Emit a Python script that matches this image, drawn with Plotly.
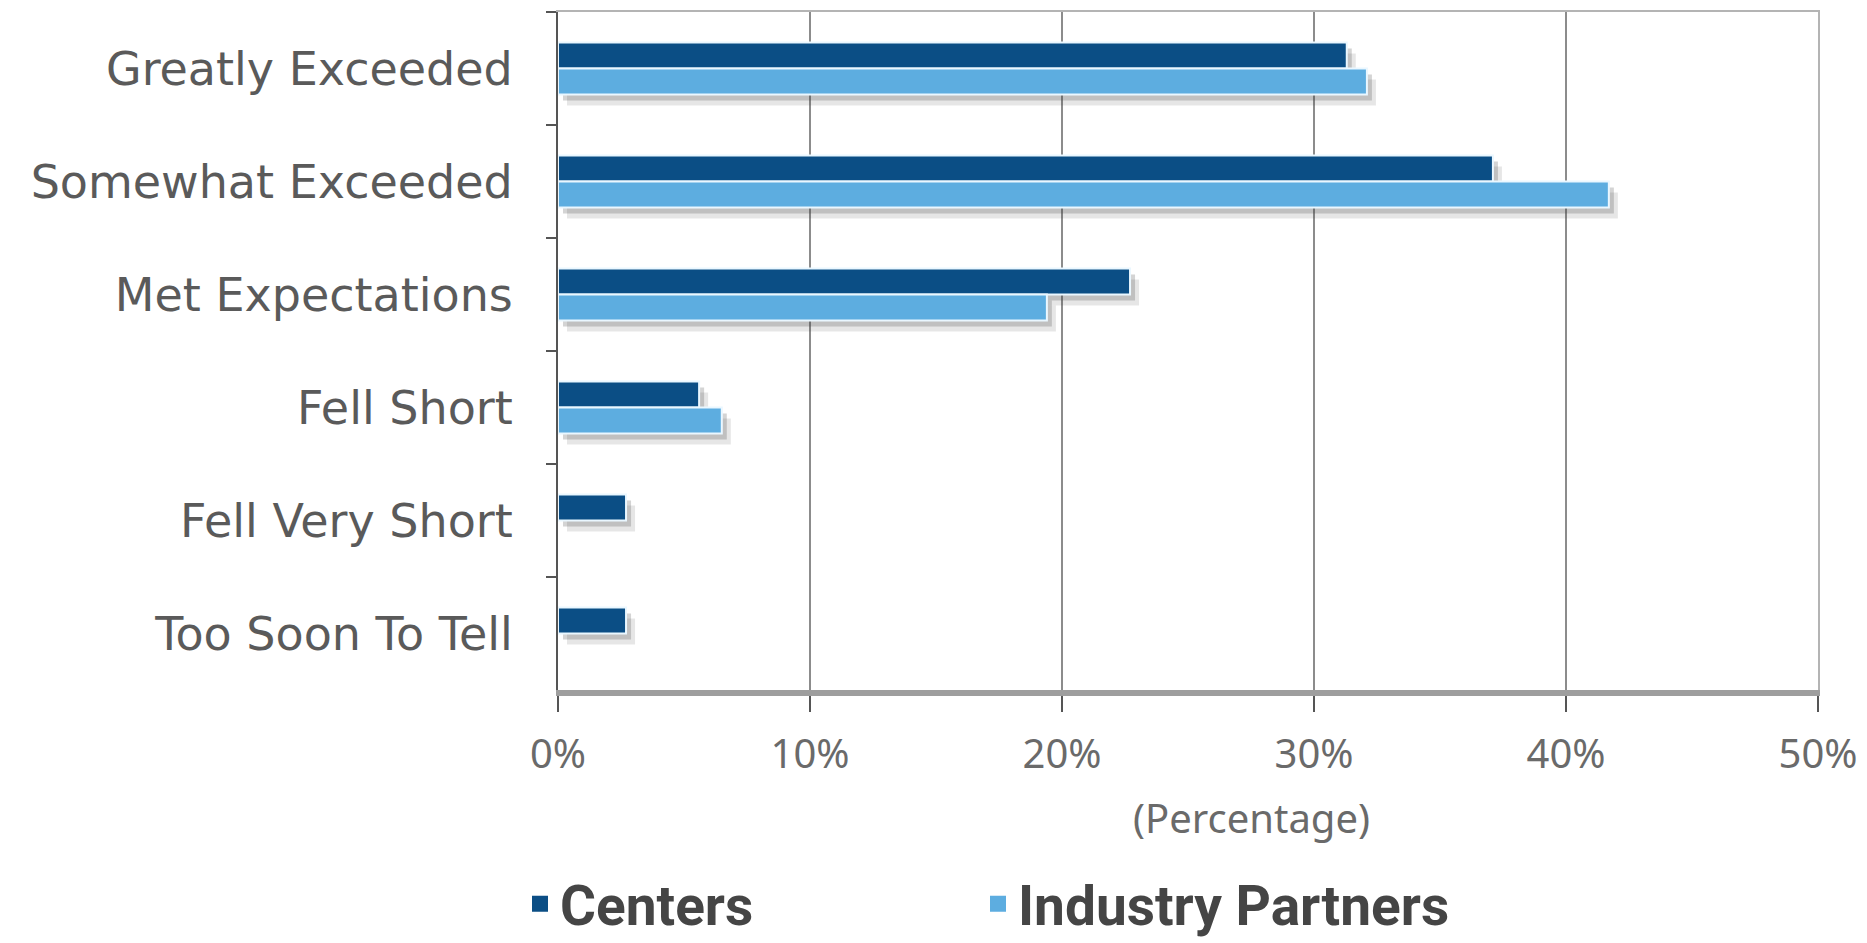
import plotly.graph_objects as go

# Survey results: how outcomes compared with expectations
categories = [
    "Greatly Exceeded",
    "Somewhat Exceeded",
    "Met Expectations",
    "Fell Short",
    "Fell Very Short",
    "Too Soon To Tell",
]
centers = [31.3, 37.1, 22.7, 5.6, 2.7, 2.7]
industry_partners = [32.1, 41.7, 19.4, 6.5, None, None]
x_ticks = [0, 10, 20, 30, 40, 50]
x_tick_labels = ["0%", "10%", "20%", "30%", "40%", "50%"]

DARK_BLUE = "#0b4e85"
LIGHT_BLUE = "#5dade0"

W, H = 1867, 943
M_L, M_R, M_T, M_B = 558, 49, 12, 253
plot_w = W - M_L - M_R
plot_h = H - M_T - M_B

X_RANGE = [0, 50]
Y_RANGE = [len(categories) - 0.5, -0.5]


def shifted(px_x, px_y):
    """Axis ranges that move the drawn bars px_x right and px_y down."""
    dx = px_x * (X_RANGE[1] - X_RANGE[0]) / plot_w
    dy = px_y * len(categories) / plot_h
    return [X_RANGE[0] - dx, X_RANGE[1] - dx], [Y_RANGE[0] - dy, Y_RANGE[1] - dy]


def paper_y(px):
    """Paper y coordinate of a pixel row measured from the top."""
    return (plot_h - (px - M_T)) / plot_h


fig = go.Figure()

# two soft drop-shadow layers under the bars
shadow_layers = [("x", "y", "rgba(60,60,60,0.22)"),
                 ("x2", "y2", "rgba(60,60,60,0.13)")]
for xa, ya, col in shadow_layers:
    for vals in (centers, industry_partners):
        fig.add_trace(go.Bar(
            y=categories, x=vals, orientation="h",
            marker=dict(color=col, line=dict(width=0)),
            showlegend=False, hoverinfo="skip",
            xaxis=xa, yaxis=ya,
        ))

# actual bars
for name, vals, col in (("Centers", centers, DARK_BLUE),
                        ("Industry Partners", industry_partners, LIGHT_BLUE)):
    fig.add_trace(go.Bar(
        y=categories, x=vals, orientation="h", name=name,
        marker=dict(color=col, line=dict(color="#eaf7ff", width=2)),
        showlegend=False,
        xaxis="x3", yaxis="y3",
    ))

# legend entries, one legend box each so they can be placed freely
for name, col, leg in (("Centers", DARK_BLUE, "legend"),
                       ("Industry Partners", LIGHT_BLUE, "legend2")):
    fig.add_trace(go.Scatter(
        x=[None], y=[None], mode="markers", name=name,
        marker=dict(symbol="square", size=20, color=col),
        xaxis="x3", yaxis="y3", legend=leg,
    ))

tick_font = dict(family="Noto Sans, sans-serif", size=40, color="#6a6a6a")
cat_font = dict(family="DejaVu Sans, sans-serif", size=46, color="#5a5a5a")
legend_font = dict(family="Roboto, sans-serif", size=55, color="#454545",
                   weight="bold")

xr1, yr1 = shifted(5, 6)
xr2, yr2 = shifted(9, 11)

hidden = dict(showgrid=False, zeroline=False, showticklabels=False, ticks="")

fig.update_layout(
    width=W, height=H,
    margin=dict(l=M_L, r=M_R, t=M_T, b=M_B, pad=0, autoexpand=False),
    paper_bgcolor="white", plot_bgcolor="white",
    barmode="group", bargap=0.54, bargroupgap=0.0,
    # main axes draw the top and right border of the frame
    xaxis=dict(range=xr1, side="top", showline=True, linecolor="#b4b4b4",
               linewidth=2, **hidden),
    yaxis=dict(range=yr1, side="right", showline=True, linecolor="#b4b4b4",
               linewidth=2, type="category", categoryorder="array",
               categoryarray=categories, **hidden),
    xaxis2=dict(range=xr2, overlaying="x", anchor="y2", visible=False),
    yaxis2=dict(range=yr2, overlaying="y", anchor="x2", visible=False,
                type="category", categoryorder="array",
                categoryarray=categories),
    xaxis3=dict(overlaying="x", anchor="y3", side="bottom",
                range=X_RANGE, tickmode="array", tickvals=x_ticks,
                ticktext=x_tick_labels, tickfont=tick_font,
                showgrid=True, gridcolor="#8c8c8c", gridwidth=1.5,
                zeroline=False, showline=True, linecolor="#9e9e9e",
                linewidth=6, ticks="outside", ticklen=16, tickwidth=2,
                tickcolor="#555555", ticklabelstandoff=8),
    yaxis3=dict(overlaying="y", anchor="x3", side="left",
                range=Y_RANGE, type="category", categoryorder="array",
                categoryarray=categories, tickfont=cat_font,
                showgrid=False, zeroline=False, showline=True,
                linecolor="#555555", linewidth=2, ticks="outside",
                tickson="boundaries", ticklen=10, tickwidth=2,
                tickcolor="#555555", ticklabelstandoff=34),
    legend=dict(orientation="h", x=(520 - M_L) / plot_w, xanchor="left",
                y=paper_y(904), yanchor="middle",
                font=legend_font, itemwidth=30,
                bgcolor="rgba(0,0,0,0)"),
    legend2=dict(orientation="h", x=(978 - M_L) / plot_w, xanchor="left",
                 y=paper_y(904), yanchor="middle",
                 font=legend_font, itemwidth=30,
                 bgcolor="rgba(0,0,0,0)"),
    annotations=[dict(
        text="(Percentage)", xref="paper", yref="paper",
        x=(1251 - M_L) / plot_w, y=paper_y(817),
        xanchor="center", yanchor="middle", showarrow=False,
        font=dict(family="Noto Sans, sans-serif", size=40, color="#6a6a6a"),
    )],
)

fig.write_html("out.html")
